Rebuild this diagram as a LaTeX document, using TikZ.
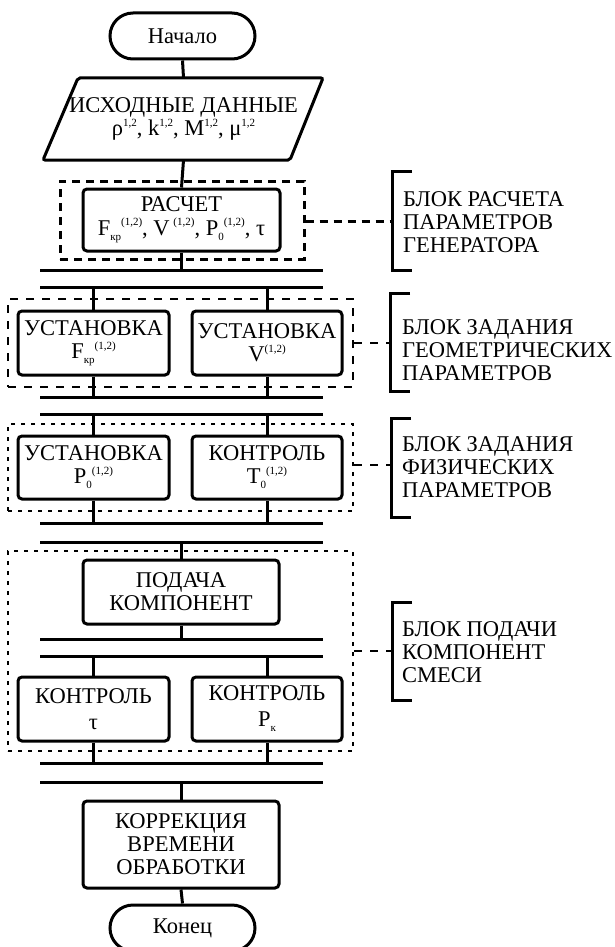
\documentclass[tikz,border=0pt]{standalone}
\usepackage{fontspec}
\setmainfont{Liberation Serif}
% small raised / lowered indices
\newcommand\hi[1]{\raisebox{9pt}{\fontsize{11}{11}\selectfont #1}}
\newcommand\hiup[1]{\raisebox{10pt}{\fontsize{11}{11}\selectfont #1}}
\newcommand\lo[1]{\raisebox{-5pt}{\fontsize{11}{11}\selectfont #1}}

\begin{document}
\begin{tikzpicture}[x=1pt,y=-1pt,
  lbl/.style={font=\fontsize{22.5}{23}\selectfont, align=center},
  blk/.style={draw, line width=3pt, rounded corners=4pt, inner sep=0pt, lbl},
  term/.style={blk, rounded corners=23pt},
  conn/.style={line width=3pt},
  bar/.style={fill=black, inner sep=0pt, minimum width=283pt, minimum height=3pt},
  grp/.style={draw, inner sep=0pt},
  grpA/.style={line width=3pt, dash pattern=on 8pt off 6pt},
  grpB/.style={line width=2.5pt, dash pattern=on 8pt off 8pt},
  grpC/.style={line width=2pt, dash pattern=on 4pt off 6pt},
  brk/.style={line width=3pt},
  note/.style={lbl, align=left, anchor=west, inner sep=0pt}
]
\useasboundingbox[fill=white] (0,0) rectangle (615,947);

% dashed group frames
\node[grp, grpA, minimum width=244pt, minimum height=78pt] (g1) at (182,220) {};
\node[grp, grpB, minimum width=345pt, minimum height=88pt] (g2) at (180.5,343) {};
\node[grp, grpC, minimum width=345pt, minimum height=87pt] (g3) at (180.5,467.5) {};
\node[grp, grpC, minimum width=345pt, minimum height=200pt] (g4) at (180.5,651) {};

% terminators and blocks
\node[term, minimum width=145pt, minimum height=46pt] (start) at (182.5,36) {Начало};
\node[lbl, inner sep=0pt, minimum width=200pt, minimum height=82pt] (indata) at (183.5,119)
  {ИСХОДНЫЕ ДАННЫЕ\\ ρ\hi{1,2}, k\hi{1,2}, M\hi{1,2}, μ\hi{1,2}};
\draw[line width=3pt, rounded corners=2pt] (78,78) -- (323,78) -- (290,160) -- (43,160) -- cycle;

\node[blk, minimum width=197pt, minimum height=62pt] (calc) at (181.5,220)
  {РАСЧЕТ\\[1pt] F\lo{кр}\hiup{(1,2)}, V\,\hiup{(1,2)}, P\lo{0}\hiup{(1,2)}, τ};

\node[blk, minimum width=151pt, minimum height=64pt] (setF) at (93.5,343) {УСТАНОВКА\\ F\lo{кр}\hi{(1,2)}};
\node[blk, minimum width=150pt, minimum height=64pt] (setV) at (267,343) {УСТАНОВКА\\ V\hi{(1,2)}};
\node[blk, minimum width=151pt, minimum height=63pt] (setP) at (93.5,467.5) {УСТАНОВКА\\ P\lo{0}\hi{(1,2)}};
\node[blk, minimum width=150pt, minimum height=63pt] (ctlT) at (267,467.5) {КОНТРОЛЬ\\ T\lo{0}\hi{(1,2)}};
\node[blk, minimum width=196pt, minimum height=64pt] (feed) at (181,592) {ПОДАЧА\\ КОМПОНЕНТ};
\node[blk, minimum width=151pt, minimum height=64pt] (ctlTau) at (93.5,709) {КОНТРОЛЬ\\[3pt] τ};
\node[blk, minimum width=150pt, minimum height=64pt] (ctlP) at (267,709) {КОНТРОЛЬ\\[3pt] P\lo{к}};
\node[blk, minimum width=196pt, minimum height=87pt] (corr) at (181,844.5) {КОРРЕКЦИЯ\\ ВРЕМЕНИ\\ ОБРАБОТКИ};
\node[term, minimum width=145pt, minimum height=46pt] (end) at (182.5,928) {Конец};

% synchronisation bars
\node[bar] (bar1) at (181.5,270) {};
\node[bar] (bar2) at (181.5,287) {};
\node[bar] (bar3) at (181.5,397) {};
\node[bar] (bar4) at (181.5,414) {};
\node[bar] (bar5) at (181.5,523) {};
\node[bar] (bar6) at (181.5,542) {};
\node[bar] (bar7) at (181.5,639) {};
\node[bar] (bar8) at (181.5,656) {};
\node[bar] (bar9) at (181.5,763) {};
\node[bar] (bar10) at (181.5,782) {};

% flow lines
\draw[conn] (start.south) -- (indata.north);
\draw[conn] (indata.south) -- (calc.north);
\draw[conn] (calc.south) -- (calc.south |- bar1.center);
\draw[conn] (bar2.center -| setF.north) -- (setF.north);
\draw[conn] (bar2.center -| setV.north) -- (setV.north);
\draw[conn] (setF.south) -- (setF.south |- bar3.center);
\draw[conn] (setV.south) -- (setV.south |- bar3.center);
\draw[conn] (bar4.center -| setP.north) -- (setP.north);
\draw[conn] (bar4.center -| ctlT.north) -- (ctlT.north);
\draw[conn] (setP.south) -- (setP.south |- bar5.center);
\draw[conn] (ctlT.south) -- (ctlT.south |- bar5.center);
\draw[conn] (bar6.center -| feed.north) -- (feed.north);
\draw[conn] (feed.south) -- (feed.south |- bar7.center);
\draw[conn] (bar8.center -| ctlTau.north) -- (ctlTau.north);
\draw[conn] (bar8.center -| ctlP.north) -- (ctlP.north);
\draw[conn] (ctlTau.south) -- (ctlTau.south |- bar9.center);
\draw[conn] (ctlP.south) -- (ctlP.south |- bar9.center);
\draw[conn] (bar10.center -| corr.north) -- (corr.north);
\draw[conn] (corr.south) -- (end.north);

% brackets with their captions
\coordinate (k1) at (392,221);
\coordinate (k2) at (390,343);
\coordinate (k3) at (391,465);
\coordinate (k4) at (392,651);
\draw[brk] (412,171) -| (k1) |- (412,270);
\draw[brk] (410,293) -| (k2) |- (410,391);
\draw[brk] (411,418) -| (k3) |- (411,517);
\draw[brk] (412,602) -| (k4) |- (412,700);

\draw[grpA] (g1.east |- k1) -- (k1);
\draw[grpB] (g2.east |- k2) -- (k2);
\draw[grpB] (g3.east |- k3) -- (k3);
\draw[grpB] (g4.east |- k4) -- (k4);

\node[note] (n1) at (403,222) {БЛОК РАСЧЕТА\\ ПАРАМЕТРОВ\\ ГЕНЕРАТОРА};
\node[note] (n2) at (402,350) {БЛОК ЗАДАНИЯ\\ ГЕОМЕТРИЧЕСКИХ\\ ПАРАМЕТРОВ};
\node[note] (n3) at (402,467) {БЛОК ЗАДАНИЯ\\ ФИЗИЧЕСКИХ\\ ПАРАМЕТРОВ};
\node[note] (n4) at (402,652) {БЛОК ПОДАЧИ\\ КОМПОНЕНТ\\ СМЕСИ};
\end{tikzpicture}
\end{document}
